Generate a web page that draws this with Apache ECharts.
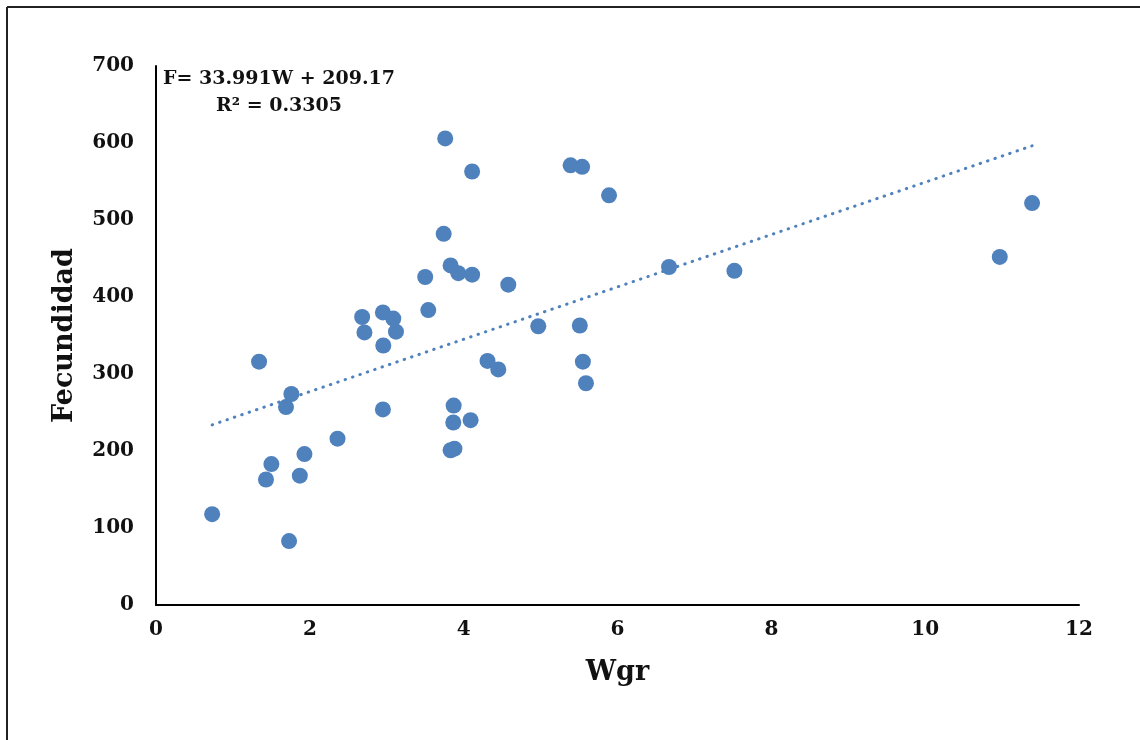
<!DOCTYPE html>
<html>
<head>
<meta charset="utf-8">
<script src="https://cdn.jsdelivr.net/npm/echarts@6/dist/echarts.min.js"></script>
<style>
  html, body { margin: 0; padding: 0; background: #fff; }
  #chart { width: 1140px; height: 740px; }
</style>
</head>
<body>
<div id="chart"></div>
<script>
// Gonad weight (g) vs. fecundity observations
const wgr = [0.73, 1.34, 1.43, 1.50, 1.69, 1.73, 1.76, 1.87, 1.93, 2.36,
             2.68, 2.71, 2.95, 2.955, 2.95, 3.085, 3.12, 3.50, 3.54, 3.74,
             3.76, 3.83, 3.83, 3.87, 3.865, 3.88, 3.93, 4.09, 4.11, 4.11,
             4.31, 4.45, 4.58, 4.97, 5.39, 5.51, 5.54, 5.55, 5.59, 5.89,
             6.67, 7.52, 10.97, 11.39];
const fecundidad = [118, 316, 163, 183, 257, 83, 274, 168, 196, 216,
                    374, 354, 380, 337, 254, 372, 355, 426, 383, 482,
                    606, 441, 201, 259, 237, 203, 431, 240, 429, 563,
                    317, 306, 416, 362, 571, 363, 569, 316, 288, 532,
                    439, 434, 452, 522];

// Linear fit reported on the chart
const slope = 33.991;
const intercept = 209.17;
const r2 = 0.3305;

const xTicks = [0, 2, 4, 6, 8, 10, 12];
const yTicks = [0, 100, 200, 300, 400, 500, 600, 700];

const points = wgr.map((w, i) => [w, fecundidad[i]]);
const xMin = Math.min(...wgr), xMax = Math.max(...wgr);
const trend = [[xMin, slope * xMin + intercept], [xMax, slope * xMax + intercept]];

const FONT = 'DejaVu Serif';
const BLUE = '#4F81BD';
const INK = '#111';

const chart = echarts.init(document.getElementById('chart'), null, { renderer: 'canvas' });
chart.setOption({
  animation: false,
  backgroundColor: '#fff',
  grid: { left: 156, top: 66, right: 61, bottom: 135, containLabel: false },
  xAxis: {
    type: 'value',
    min: xTicks[0], max: xTicks[xTicks.length - 1], interval: 2,
    name: 'Wgr', nameLocation: 'middle', nameGap: 54,
    nameTextStyle: { fontFamily: FONT, fontWeight: 'bold', fontSize: 27, color: INK },
    axisLine: { show: true, lineStyle: { color: '#000', width: 2 } },
    axisTick: { show: false },
    splitLine: { show: false },
    axisLabel: { margin: 15, fontFamily: FONT, fontWeight: 'bold', fontSize: 20, color: INK }
  },
  yAxis: {
    type: 'value',
    min: yTicks[0], max: yTicks[yTicks.length - 1], interval: 100,
    name: 'Fecundidad', nameLocation: 'middle', nameGap: 78,
    nameTextStyle: { fontFamily: FONT, fontWeight: 'bold', fontSize: 27, color: INK },
    axisLine: { show: true, lineStyle: { color: '#000', width: 2 } },
    axisTick: { show: false },
    splitLine: { show: false },
    axisLabel: { margin: 22, fontFamily: FONT, fontWeight: 'bold', fontSize: 20, color: INK }
  },
  graphic: [
    // chart frame: only the top and left edges fall inside the view
    { type: 'line', silent: true,
      shape: { x1: 7, y1: 7, x2: 1140, y2: 7 },
      style: { stroke: '#222', lineWidth: 2 } },
    { type: 'line', silent: true,
      shape: { x1: 7, y1: 7, x2: 7, y2: 740 },
      style: { stroke: '#222', lineWidth: 2 } },
    { type: 'text', x: 163, y: 70,
      style: { text: 'F= ' + slope + 'W + ' + intercept, font: 'bold 19px "DejaVu Serif"', fill: INK } },
    { type: 'text', x: 216, y: 97,
      style: { text: 'R² = ' + r2, font: 'bold 19px "DejaVu Serif"', fill: INK } }
  ],
  series: [
    {
      type: 'line',
      data: trend,
      symbol: 'none',
      lineStyle: { color: BLUE, width: 3, type: [0.5, 7.3], cap: 'round' },
      z: 1
    },
    {
      type: 'scatter',
      data: points,
      symbol: 'circle',
      symbolSize: 16,
      itemStyle: { color: BLUE, opacity: 1 },
      z: 2
    }
  ]
});
</script>
</body>
</html>
